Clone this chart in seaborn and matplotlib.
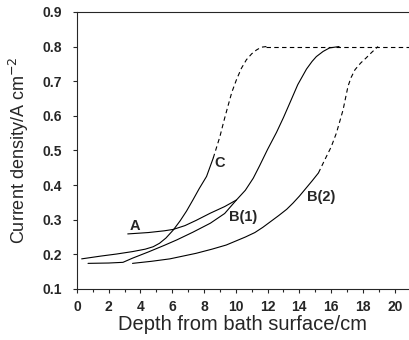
import matplotlib
matplotlib.use("Agg")
import matplotlib.pyplot as plt
import seaborn as sns
from matplotlib.ticker import MultipleLocator

# curve C (solid part, then dashed extrapolation)
c_x = [0.3, 1.5, 2.5, 3.5, 4.3, 4.8, 5.2, 5.6, 6.06, 6.5, 6.9, 7.3, 7.7, 8.16, 8.58]
c_y = [0.187, 0.195, 0.201, 0.208, 0.215, 0.222, 0.232, 0.247, 0.27, 0.297, 0.325, 0.357, 0.39, 0.425, 0.478]
c_dash_x = [8.58, 9.0, 9.25, 9.5, 9.75, 10.04, 10.35, 10.67, 11.0, 11.3, 11.6, 11.93]
c_dash_y = [0.478, 0.54, 0.585, 0.627, 0.668, 0.704, 0.737, 0.762, 0.779, 0.79, 0.798, 0.80]

# curve A
a_x = [3.2, 4.5, 5.5, 6.06, 6.8, 7.5, 8.4, 9.3, 10.04, 10.6, 11.1, 11.5, 12.0, 12.56,
       13.0, 13.4, 13.9, 14.45, 14.8, 15.07, 15.5, 15.9, 16.5]
a_y = [0.259, 0.263, 0.268, 0.272, 0.283, 0.298, 0.319, 0.338, 0.357, 0.385, 0.42, 0.456, 0.503, 0.552,
       0.595, 0.637, 0.69, 0.735, 0.757, 0.771, 0.786, 0.796, 0.80]

# curve B(1)
b1_x = [0.7, 2.0, 2.9, 3.5, 4.5, 5.5, 6.3, 7.3, 8.4, 9.3, 10.04]
b1_y = [0.174, 0.175, 0.177, 0.189, 0.207, 0.226, 0.242, 0.264, 0.29, 0.318, 0.357]

# curve B(2)
b2_x = [3.5, 4.7, 5.85, 7.5, 8.5, 9.4, 10.6, 11.2, 11.7, 12.2, 12.7, 13.2, 13.6, 14.0, 14.4, 14.8, 15.2]
b2_y = [0.174, 0.18, 0.187, 0.203, 0.215, 0.227, 0.25, 0.263, 0.278, 0.295, 0.312, 0.33, 0.348,
        0.368, 0.39, 0.412, 0.435]
b2_dash_x = [15.2, 15.6, 16.0, 16.33, 16.55, 16.75, 16.9, 17.06, 17.25, 17.5, 17.85, 18.2, 18.55, 18.95]
b2_dash_y = [0.435, 0.473, 0.51, 0.55, 0.585, 0.617, 0.65, 0.685, 0.71, 0.733, 0.752, 0.767, 0.783, 0.80]

# plateau at 0.8
flat_x = [11.93, 20.9]
flat_y = [0.8, 0.8]

labels = ["A", "C", "B(1)", "B(2)"]
label_x = [3.65, 9.0, 10.46, 15.4]
label_y = [0.282, 0.465, 0.309, 0.367]

sns.set_style("ticks")
plt.rcParams['font.family'] = ['Liberation Sans', 'DejaVu Sans']

fig = plt.figure(figsize=(4.09, 3.40), dpi=100)
ax = fig.add_axes([0.188, 0.15, 0.812, 0.815])

solid = dict(color='black', lw=0.8)
dashed = dict(color='black', lw=0.8, linestyle=(0, (4, 3)))
sns.lineplot(x=c_x, y=c_y, ax=ax, **solid)
sns.lineplot(x=c_dash_x, y=c_dash_y, ax=ax, **dashed)
sns.lineplot(x=a_x, y=a_y, ax=ax, **solid)
sns.lineplot(x=b1_x, y=b1_y, ax=ax, **solid)
sns.lineplot(x=b2_x, y=b2_y, ax=ax, **solid)
sns.lineplot(x=b2_dash_x, y=b2_dash_y, ax=ax, **dashed)
sns.lineplot(x=flat_x, y=flat_y, ax=ax, **dashed)

for t, x, y in zip(labels, label_x, label_y):
    ax.text(x, y, t, fontsize=10.5, fontweight='bold', ha='center', va='center')

ax.set_xlim(0, 20.9)
ax.set_ylim(0.1, 0.9)
ax.xaxis.set_major_locator(MultipleLocator(2))
ax.xaxis.set_minor_locator(MultipleLocator(1))
ax.yaxis.set_major_locator(MultipleLocator(0.1))
ax.tick_params(which='both', direction='out', length=3, width=0.8)
ax.tick_params(which='minor', length=2)
ax.tick_params(axis='x', labelsize=10, pad=5)
ax.tick_params(axis='y', labelsize=10, pad=8)
for lab in ax.get_xticklabels() + ax.get_yticklabels():
    lab.set_fontweight('bold')
ax.spines['right'].set_visible(False)
for s in ['left', 'bottom', 'top']:
    ax.spines[s].set_linewidth(0.8)

ax.set_xlabel("Depth from bath surface/cm", fontsize=14.5, labelpad=1)
ax.set_ylabel("Current density/A cm$^{-2}$", fontsize=13, labelpad=8)

fig.savefig("out.png", dpi=100)
